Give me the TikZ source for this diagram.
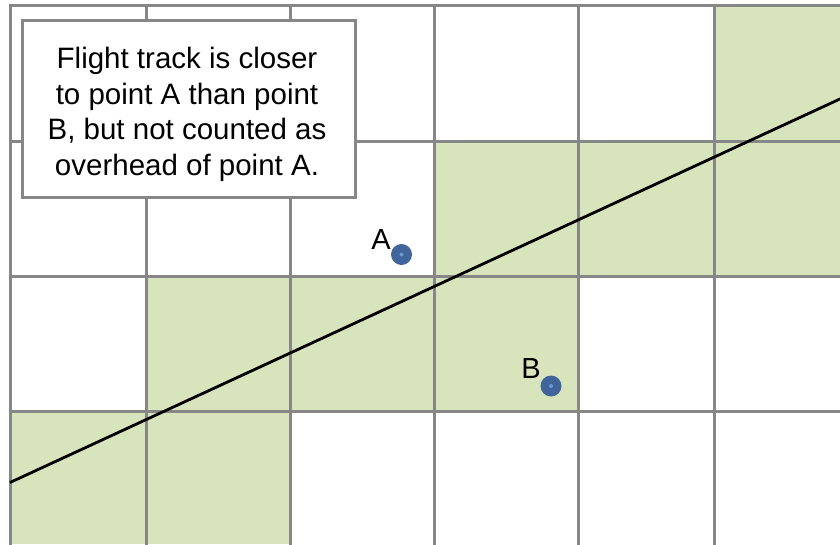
\documentclass[tikz,border=0pt]{standalone}
\usepackage{fontspec}
\setmainfont{Liberation Sans}
\definecolor{gridgray}{HTML}{878787}
\definecolor{cellgreen}{HTML}{D8E4BC}
\definecolor{dotblue}{HTML}{3F659C}
\definecolor{dotcenter}{HTML}{6E98D0}
\begin{document}
\begin{tikzpicture}[x=1pt,y=-1pt,
  gridline/.style={draw=gridgray,line width=3pt},
  cell/.style={fill=cellgreen},
  track/.style={draw=black,line width=2.8pt},
  notebox/.style={draw=gridgray,line width=3pt,fill=white,minimum width=333pt,minimum height=177pt,inner sep=0pt},
  notetext/.style={inner sep=0pt,align=center,font=\fontsize{29.5}{35.5}\selectfont},
  ptdot/.style={circle,fill=dotblue,minimum size=21pt,inner sep=0pt},
  ptlabel/.style={anchor=base,inner sep=0pt,font=\fontsize{29}{35}\selectfont}]
\useasboundingbox (0,0) rectangle (840,544);
\fill[white] (0,0) rectangle (840,544);
% shaded cells
\fill[cell] (714,5.5) rectangle (840,141);
\fill[cell] (434,141) rectangle (840,276.5);
\fill[cell] (146,276.5) rectangle (578,411);
\fill[cell] (10,411) rectangle (290,544);
% grid
\foreach \gx in {10,146,290,434,578,714}
  \draw[gridline] (\gx,5.5) -- (\gx,545);
\foreach \gy in {5.5,141,276.5,411}
  \draw[gridline] (8.5,\gy) -- (841,\gy);
% flight track
\coordinate (trackstart) at (10,482.5);
\coordinate (trackend) at (841,98.5);
\draw[track] (trackstart) -- (trackend);
% note box
\node[notebox] (note) at (188.5,108.5) {};
\node[notetext] (notetxt) at (187,114.5) {Flight track is closer\\to point A than point\\B, but not counted as\\overhead of point A.};
% points
\node[ptdot] (ptA) at (401.5,254.5) {};
\fill[dotcenter] (ptA.center) circle (2pt);
\node[ptlabel] (labA) at (381,249) {A};
\node[ptdot] (ptB) at (551,386) {};
\fill[dotcenter] (ptB.center) circle (2pt);
\node[ptlabel] (labB) at (531,378) {B};
\end{tikzpicture}
\end{document}
